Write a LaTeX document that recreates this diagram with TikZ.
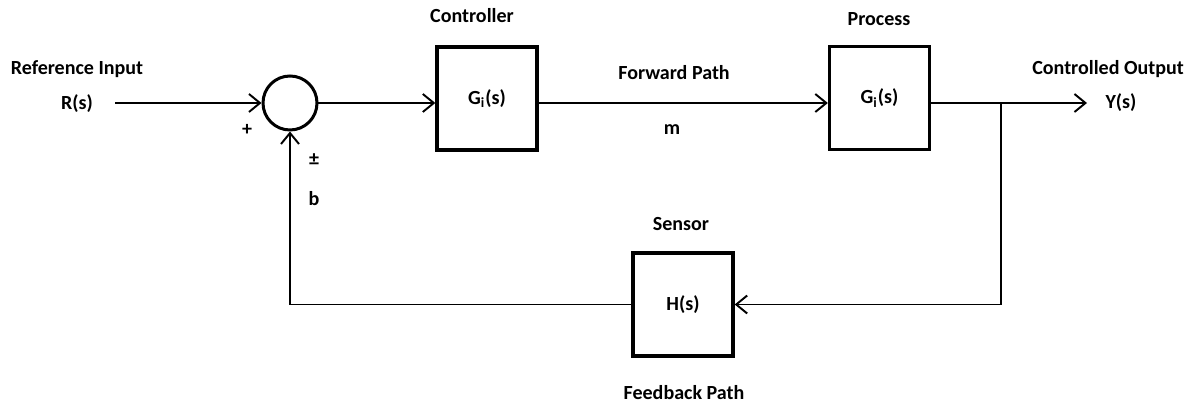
\documentclass[tikz,border=0pt]{standalone}
\usepackage{fontspec}
\setmainfont{Carlito}
\usetikzlibrary{arrows.meta}
\tikzset{
  blok/.style={draw,line width=1.9pt,minimum width=2cm,minimum height=2.06cm,font=\fontsize{11.4}{13}\bfseries},
  somme/.style={draw,circle,line width=1.7pt,minimum size=1.08cm,inner sep=0pt},
  lbl/.style={font=\fontsize{11.4}{13}\bfseries}
}
\begin{document}
\begin{tikzpicture}[>={Straight Barb[length=2.2mm,width=3.6mm]},line width=1.1pt]
\useasboundingbox (0,0) rectangle (23.92,8.08);

\node[somme] (sum) at (5.8,6.02) {};
\node[blok] (ctrl) at (9.74,6.11) {G\textsubscript{i}(s)};
\node[blok] (proc) at (17.59,6.12) {G\textsubscript{i}(s)};
\node[blok] (sens) at (13.66,1.99) {H(s)};

\node[lbl] (ref) at (1.54,6.7) {Reference Input};
\node[lbl] (rs) at (1.54,6.0) {R(s)};
\node[lbl] (plus) at (4.94,5.48) {+};
\node[lbl] (pm) at (6.28,4.88) {±};
\node[lbl] (b) at (6.28,4.1) {b};
\node[lbl] (ctrllbl) at (9.44,7.76) {Controller};
\node[lbl] (fwd) at (13.48,6.62) {Forward Path};
\node[lbl] (m) at (13.44,5.48) {m};
\node[lbl] (proclbl) at (17.58,7.7) {Process};
\node[lbl] (out) at (22.16,6.7) {Controlled Output};
\node[lbl] (ys) at (22.42,6.02) {Y(s)};
\node[lbl] (senslbl) at (13.62,3.6) {Sensor};
\node[lbl] (fb) at (13.68,0.22) {Feedback Path};

\coordinate (in) at (2.3,6.02);
\coordinate (br) at (20.02,6.02);
\coordinate (end) at (21.74,6.02);

% forward path
\draw[->] (in) -- (sum.west);
\draw[->] (sum.east) -- (sum.east -| ctrl.west);
\draw[->] (sum.east -| ctrl.east) -- (sum.east -| proc.west);
\draw[->] (sum.east -| proc.east) -- (end);
% feedback path
\draw[->] (br) |- (sens.east);
\draw[->] (sens.west) -| (sum.south);
\end{tikzpicture}
\end{document}
